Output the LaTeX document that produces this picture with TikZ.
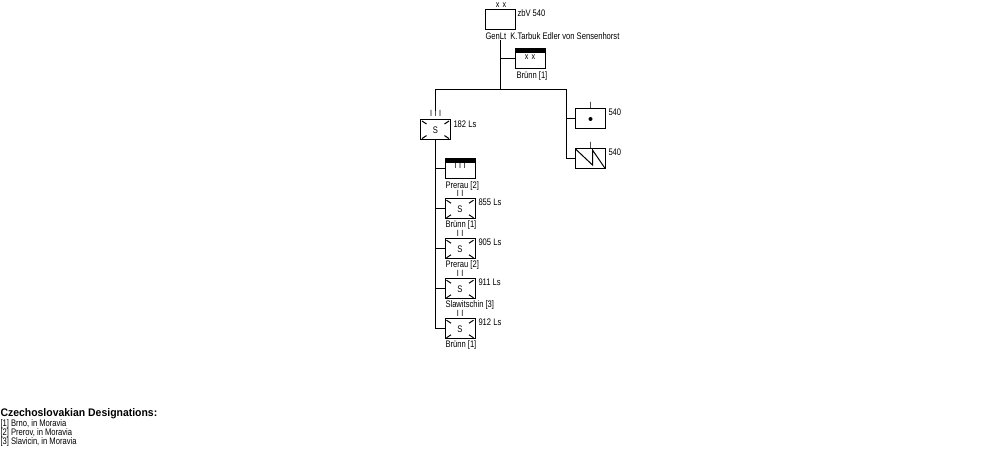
\documentclass[tikz,border=0pt]{standalone}
\usepackage{fontspec}
\setmainfont{Liberation Sans}[FakeStretch=0.8]
\newfontfamily\titlefont{Liberation Sans}[FakeStretch=0.95]
\begin{document}
\begin{tikzpicture}[x=1bp,y=-1bp,line width=1bp]
\tikzset{
  unitbox/.style={draw, line width=1bp, minimum width=30bp, minimum height=20bp, inner sep=0pt,
    font=\fontsize{9.5bp}{11bp}\selectfont},
  infbox/.style={unitbox, path picture={
    \draw[line width=1bp] ([shift={(1.5,1.2)}]path picture bounding box.north west) -- ++(4.5,3);
    \draw[line width=1bp] ([shift={(-1.5,1.2)}]path picture bounding box.north east) -- ++(-4.5,3);
    \draw[line width=1bp] ([shift={(1.5,-1.2)}]path picture bounding box.south west) -- ++(4.5,-3);
    \draw[line width=1bp] ([shift={(-1.5,-1.2)}]path picture bounding box.south east) -- ++(-4.5,-3);}},
  barbox/.style={unitbox, path picture={
    \fill (path picture bounding box.north west) rectangle ([yshift=-4bp]path picture bounding box.north east);}},
  dotbox/.style={unitbox, path picture={
    \fill (path picture bounding box.center) circle[radius=2bp];}},
  zigbox/.style={unitbox, path picture={
    \draw[line width=1bp] (path picture bounding box.north west) -- ++(17,16) -- ++(0,-15) -- (path picture bounding box.south east);}},
  lbl/.style={anchor=base west, inner sep=0pt, font=\fontsize{9.5bp}{11bp}\selectfont},
  echmark/.style={anchor=base, inner sep=0pt, font=\fontsize{9bp}{10bp}\selectfont},
  legtitle/.style={anchor=base west, inner sep=0pt, font=\titlefont\bfseries\fontsize{11bp}{12bp}\selectfont},
}
\fill[white] (0,0) rectangle (1000,450);
\useasboundingbox (0,0) rectangle (1000,450);

% top HQ
\node[unitbox] (hq) at (500.5,19.5) {};
\node[echmark] (hqmk) at (501,7.3) {x\hspace{3bp}x};
\node[lbl] (hqlbl) at (517,16.4) {zbV 540};
\node[lbl] (hqname) at (485,39.4) {GenLt\ \ K.Tarbuk Edler von Sensenhorst};

% Brünn HQ
\node[barbox] (brhq) at (530,59) {};
\node[echmark] (brhqmk) at (530,59.8) {x\hspace{3bp}x};
\node[lbl] (brhqlbl) at (516,78.9) {Brünn [1]};

% 182 Ls
\node[infbox] (ls182) at (435.5,129.8) {S};
\node[echmark] (ls182mk) at (435.5,117) {I\hspace{2.5bp}I\hspace{2.5bp}I};
\node[lbl] (ls182lbl) at (453,127.4) {182 Ls};

% signal units
\node[dotbox] (sig1) at (590.5,119) {};
\node[echmark] (sig1mk) at (590.5,109) {I};
\node[lbl] (sig1lbl) at (608,115.4) {540};
\node[zigbox] (sig2) at (590.5,159) {};
\node[echmark] (sig2mk) at (590.5,149) {I};
\node[lbl] (sig2lbl) at (608,155.4) {540};

% Prerau HQ
\node[barbox] (prerau) at (460,169) {};
\node[echmark] (preraumk) at (460,168.2) {I\hspace{2.5bp}I\hspace{2.5bp}I};
\node[lbl] (preraulbl) at (445,188.4) {Prerau [2]};

% battalions
\foreach \nm/\T/\unit/\loc in {s855/199/855 Ls/Brünn [1], s905/239/905 Ls/Prerau [2],
    s911/279/911 Ls/Slawitschin [3], s912/319/912 Ls/Brünn [1]}{
  \node[infbox] (\nm) at (460,\T+10) {S};
  \node[echmark] (\nm mk) at (460,\T-2) {I\hspace{2.5bp}I};
  \node[lbl] (\nm lbl) at (478,\T+6.9) {\unit};
  \node[lbl] (\nm loc) at (445,\T+28.4) {\loc};
}

% connectors
\coordinate (hqstem) at (500.5,40);
\coordinate (bus) at (500.5,89.5);
\coordinate (busL) at (435.5,89.5);
\coordinate (busR) at (566,89.5);
\coordinate (ls182top) at (435.5,111);
\draw (hqstem) -- (bus);
\draw (hqstem |- brhq) -- (brhq.west);
\draw (busL) -- (busR);
\draw (busL) -- (ls182top);
\draw (busR) -- (busR |- sig2) -- (sig2.west);
\draw (busR |- sig1) -- (sig1.west);
\draw (ls182.south) -- (ls182.south |- s912) -- (s912.west);
\foreach \nm in {prerau,s855,s905,s911}{
  \draw (ls182.south |- \nm) -- (\nm.west);
}

% legend
\node[legtitle] (legt) at (0,416.7) {Czechoslovakian Designations:};
\node[lbl] (leg1) at (0,426.4) {[1] Brno, in Moravia};
\node[lbl] (leg2) at (0,435.4) {[2] Prerov, in Moravia};
\node[lbl] (leg3) at (0,444.4) {[3] Slavicin, in Moravia};
\end{tikzpicture}
\end{document}
